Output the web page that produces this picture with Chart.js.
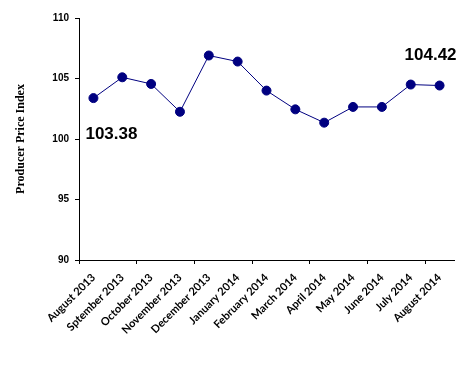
<!DOCTYPE html>
<html>
<head>
<meta charset="utf-8">
<script src="https://cdn.jsdelivr.net/npm/chart.js@4/dist/chart.umd.min.js"></script>
<style>
  html, body { margin: 0; padding: 0; background: #fff; }
  #wrap { width: 468px; height: 369px; }
</style>
</head>
<body>
<div id="wrap"><canvas id="ppiChart" width="468" height="369"></canvas></div>
<script>
const months = [
  "August 2013", "Sptember 2013", "October 2013", "November 2013",
  "December 2013", "January 2014", "February 2014", "March 2014",
  "April 2014", "May 2014", "June 2014", "July 2014", "August 2014",
];
const ppiValues = [103.38, 105.1, 104.55, 102.25, 106.9, 106.4, 104.0, 102.45, 101.35, 102.65, 102.65, 104.5, 104.42];
const yTicks = [90, 95, 100, 105, 110];

const navy = "#000080";

// first and last values written next to the line
const endLabels = {
  id: "endLabels",
  afterDatasetsDraw(chart) {
    const c = chart.ctx;
    const pts = chart.getDatasetMeta(0).data;
    const y = chart.scales.y;
    c.save();
    c.font = "bold 17px 'Liberation Sans', Arial, sans-serif";
    c.fillStyle = "#000";
    c.textBaseline = "alphabetic";
    c.textAlign = "left";
    c.fillText(ppiValues[0].toFixed(2), pts[0].x - 8, y.getPixelForValue(100));
    const last = pts[pts.length - 1];
    c.textAlign = "center";
    c.fillText(ppiValues[ppiValues.length - 1].toFixed(2), last.x - 9, last.y - 26);
    c.restore();
  },
};

new Chart(document.getElementById("ppiChart").getContext("2d"), {
  type: "line",
  data: {
    labels: months,
    datasets: [{
      data: ppiValues,
      borderColor: navy,
      borderWidth: 1,
      backgroundColor: navy,
      pointBackgroundColor: navy,
      pointBorderColor: navy,
      pointRadius: 4.5,
      tension: 0,
    }],
  },
  options: {
    responsive: false,
    animation: false,
    layout: { padding: { left: 8, right: 14, top: 18, bottom: 0 } },
    plugins: { legend: { display: false }, tooltip: { enabled: false } },
    scales: {
      x: {
        offset: true,
        afterFit: (s) => { s.height = 109; },
        border: { color: "#000", width: 1 },
        grid: {
          offset: true,
          drawOnChartArea: false,
          tickLength: 4,
          color: (ctx) => (ctx.index % 2 === 0 ? "#000" : "rgba(0,0,0,0)"),
        },
        ticks: {
          autoSkip: false,
          minRotation: 45,
          maxRotation: 45,
          padding: 7,
          color: "#000",
          font: { family: "Lato, 'Open Sans', sans-serif", size: 11, weight: "bold" },
        },
      },
      y: {
        min: 90,
        max: 110,
        afterBuildTicks: (s) => { s.ticks = yTicks.map((v) => ({ value: v })); },
        afterFit: (s) => { s.width = 71; },
        border: { color: "#000", width: 1 },
        grid: { drawOnChartArea: false, tickLength: 4, color: "#000" },
        ticks: {
          padding: 6,
          color: "#000",
          font: { family: "'Liberation Sans', Arial, sans-serif", size: 10, weight: "bold" },
        },
        title: {
          display: true,
          text: "Producer Price Index",
          color: "#000",
          padding: { top: 6, bottom: 0 },
          font: { family: "'Liberation Serif', 'Times New Roman', serif", size: 12, weight: "bold" },
        },
      },
    },
  },
  plugins: [endLabels],
});
</script>
</body>
</html>
